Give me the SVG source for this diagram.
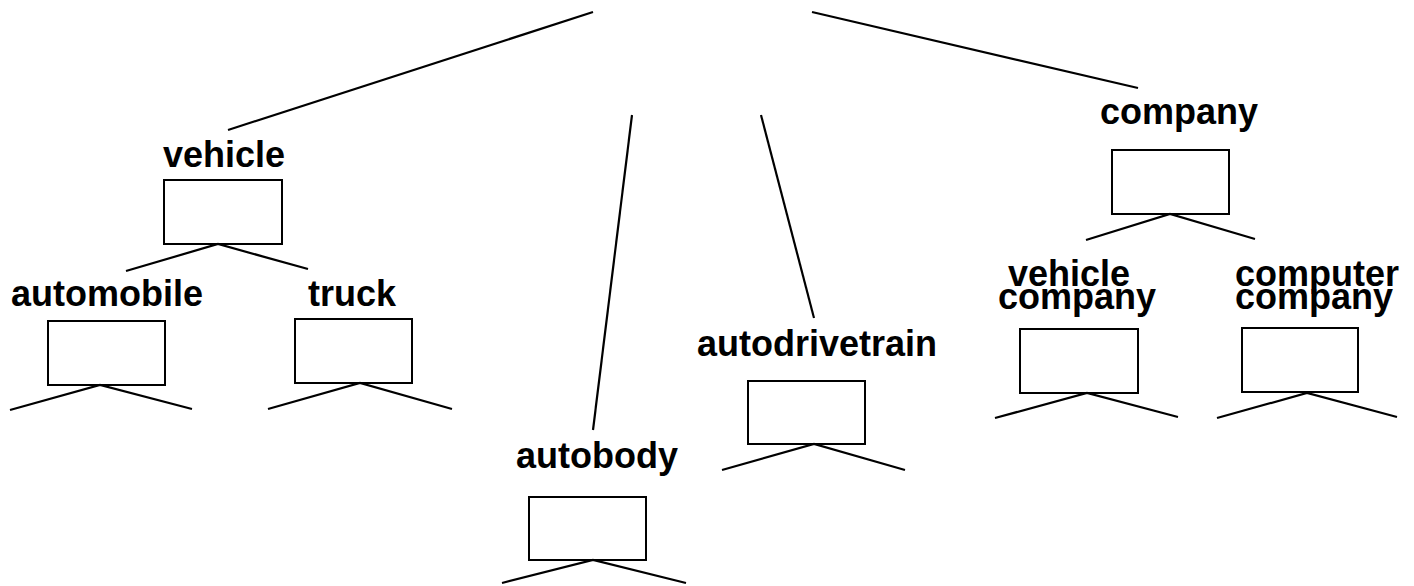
<svg xmlns="http://www.w3.org/2000/svg" width="1414" height="586" viewBox="0 0 1414 586">
<style>
.bx{fill:#fff;stroke:#000;stroke-width:2}
.ln{fill:none;stroke:#000;stroke-width:2.2}
.lb{font-family:"Liberation Sans",Arial,sans-serif;font-weight:bold;font-size:36px;fill:#000}
.m{text-anchor:middle}
</style>
<rect width="1414" height="586" fill="#fff"/>
<g id="connectors">
<line class="ln" x1="228" y1="130" x2="593" y2="12"/>
<line class="ln" x1="812" y1="12" x2="1138" y2="88"/>
<line class="ln" x1="632" y1="115" x2="593" y2="430"/>
<line class="ln" x1="761" y1="115" x2="814" y2="318"/>
</g>
<g id="vehicle">
<text class="lb m" x="224" y="167">vehicle</text>
<rect class="bx" x="164" y="180" width="118" height="64"/>
<polyline class="ln" points="126,271 218,244 308,269"/>
</g>
<g id="automobile">
<text class="lb m" x="107" y="306">automobile</text>
<rect class="bx" x="48" y="321" width="117" height="64"/>
<polyline class="ln" points="10,410 100,385 192,409"/>
</g>
<g id="truck">
<text class="lb m" x="352" y="306">truck</text>
<rect class="bx" x="295" y="319" width="117" height="64"/>
<polyline class="ln" points="268,409 360,383 452,409"/>
</g>
<g id="autobody">
<text class="lb m" x="597" y="468">autobody</text>
<rect class="bx" x="529" y="497" width="117" height="63"/>
<polyline class="ln" points="502,583 593,560 686,583"/>
</g>
<g id="autodrivetrain">
<text class="lb m" x="817" y="356">autodrivetrain</text>
<rect class="bx" x="748" y="381" width="117" height="63"/>
<polyline class="ln" points="722,470 814,444 905,470"/>
</g>
<g id="company">
<text class="lb m" x="1179" y="124">company</text>
<rect class="bx" x="1112" y="150" width="117" height="64"/>
<polyline class="ln" points="1086,240 1170,214 1255,239"/>
</g>
<g id="vehicle-company">
<text class="lb m" x="1069" y="286">vehicle</text>
<text class="lb m" x="1077" y="309">company</text>
<rect class="bx" x="1020" y="329" width="118" height="64"/>
<polyline class="ln" points="995,418 1087,393 1178,417"/>
</g>
<g id="computer-company">
<text class="lb" x="1235" y="286">computer</text>
<text class="lb" x="1235" y="309">company</text>
<rect class="bx" x="1242" y="328" width="116" height="64"/>
<polyline class="ln" points="1217,418 1307,393 1397,417"/>
</g>
</svg>
